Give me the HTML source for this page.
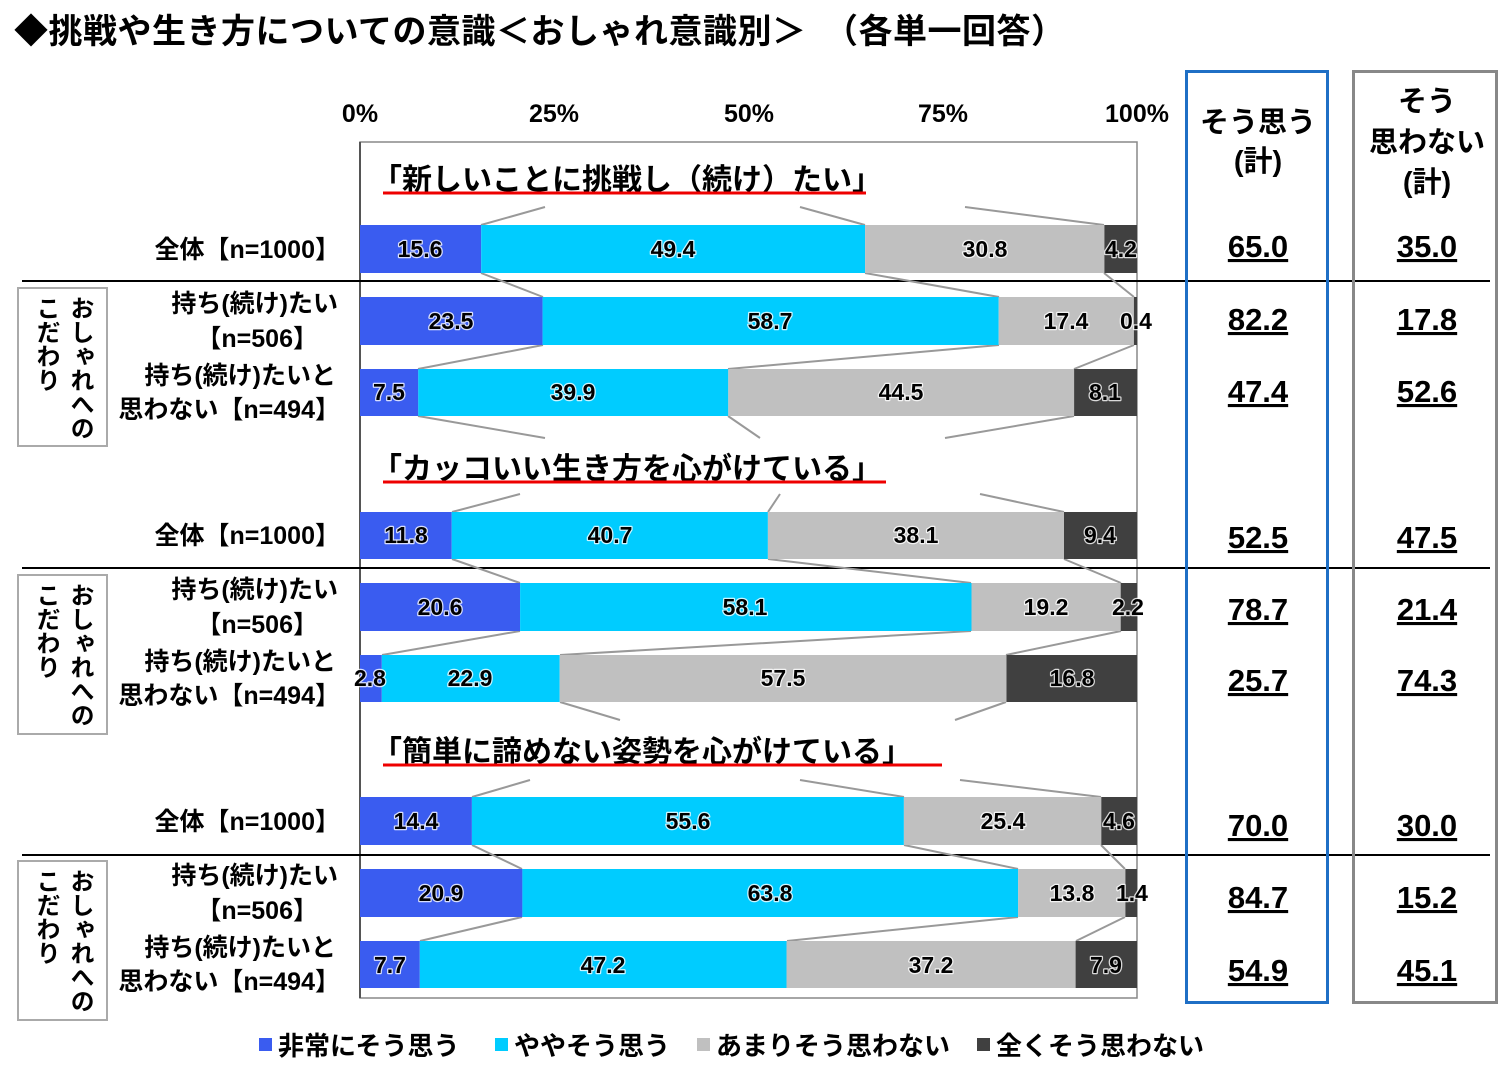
<!DOCTYPE html>
<html><head><meta charset="utf-8"><style>
body{margin:0;background:#fff;}
svg{display:block;font-family:"Liberation Sans","Noto Sans CJK JP",sans-serif;font-weight:bold;}
.vt{position:absolute;writing-mode:vertical-rl;font-family:"Liberation Sans","Noto Sans CJK JP",sans-serif;font-weight:bold;font-size:24px;line-height:34px;color:#000;}
</style></head><body>
<div style="position:relative;width:1500px;height:1079px;overflow:hidden">
<svg width="1500" height="1079" viewBox="0 0 1500 1079">
<text x="14" y="43" font-size="34" letter-spacing="0.5">◆挑戦や生き方についての意識＜おしゃれ意識別＞　（各単一回答）</text>
<g font-size="25" text-anchor="middle">
<text x="360" y="122">0%</text><text x="554" y="122">25%</text><text x="749" y="122">50%</text><text x="943" y="122">75%</text><text x="1137" y="122">100%</text>
</g>
<rect x="360" y="142" width="777" height="856" fill="none" stroke="#888" stroke-width="1.5"/>
<line x1="360" y1="142" x2="360" y2="998" stroke="#555" stroke-width="2"/>
<g stroke="#000" stroke-width="2">
<line x1="22" y1="281" x2="1490" y2="281"/><line x1="22" y1="568" x2="1490" y2="568"/><line x1="22" y1="855" x2="1490" y2="855"/>
</g>
<g font-size="30">
<text x="372" y="190">「新しいことに挑戦し（続け）たい」</text>
<text x="372" y="479">「カッコいい生き方を心がけている」</text>
<text x="372" y="762">「簡単に諦めない姿勢を心がけている」</text>
</g>
<g stroke="#e00" stroke-width="3">
<line x1="383" y1="193" x2="866" y2="193"/><line x1="383" y1="482" x2="886" y2="482"/><line x1="383" y1="765" x2="942" y2="765"/>
</g>
<g stroke="#999" stroke-width="2" fill="none">
<path d="M481,273L543,297M865,273L999,297M1104,273L1134,297"/>
<path d="M543,345L418,369M999,345L728,369M1134,345L1074,369"/>
<path d="M481,225L545,207M865,225L800,207M1104,225L965,207"/>
<path d="M418,416L545,438M728,416L760,438M1074,416L945,438"/>
<path d="M452,559L520,583M768,559L971,583M1064,559L1121,583"/>
<path d="M520,631L382,655M971,631L560,655M1121,631L1006,655"/>
<path d="M452,512L520,494M768,512L780,494M1064,512L980,494"/>
<path d="M560,702L620,720M1006,702L955,720"/>
<path d="M472,845L522,869M904,845L1018,869M1101,845L1125,869"/>
<path d="M522,917L420,941M1018,917L787,941M1125,917L1076,941"/>
<path d="M472,797L530,780M904,797L800,780M1101,797L960,780"/>
</g>
<g>
<rect x="360" y="225" width="121.2" height="48" fill="#3a5cf0"/><rect x="481.2" y="225" width="383.9" height="48" fill="#00ccff"/><rect x="865.1" y="225" width="239.3" height="48" fill="#c0c0c0"/><rect x="1104.4" y="225" width="32.6" height="48" fill="#404040"/>
<rect x="360" y="297" width="182.6" height="48" fill="#3a5cf0"/><rect x="542.6" y="297" width="456.1" height="48" fill="#00ccff"/><rect x="998.7" y="297" width="135.2" height="48" fill="#c0c0c0"/><rect x="1133.9" y="297" width="3.1" height="48" fill="#404040"/>
<rect x="360" y="369" width="58.3" height="47" fill="#3a5cf0"/><rect x="418.3" y="369" width="310" height="47" fill="#00ccff"/><rect x="728.3" y="369" width="345.8" height="47" fill="#c0c0c0"/><rect x="1074.1" y="369" width="62.9" height="47" fill="#404040"/>
<rect x="360" y="512" width="91.7" height="47" fill="#3a5cf0"/><rect x="451.7" y="512" width="316.2" height="47" fill="#00ccff"/><rect x="767.9" y="512" width="296.1" height="47" fill="#c0c0c0"/><rect x="1064" y="512" width="73" height="47" fill="#404040"/>
<rect x="360" y="583" width="160.1" height="48" fill="#3a5cf0"/><rect x="520.1" y="583" width="451.4" height="48" fill="#00ccff"/><rect x="971.5" y="583" width="149.2" height="48" fill="#c0c0c0"/><rect x="1120.7" y="583" width="16.3" height="48" fill="#404040"/>
<rect x="360" y="655" width="21.8" height="47" fill="#3a5cf0"/><rect x="381.8" y="655" width="177.9" height="47" fill="#00ccff"/><rect x="559.7" y="655" width="446.8" height="47" fill="#c0c0c0"/><rect x="1006.5" y="655" width="130.5" height="47" fill="#404040"/>
<rect x="360" y="797" width="111.9" height="48" fill="#3a5cf0"/><rect x="471.9" y="797" width="432" height="48" fill="#00ccff"/><rect x="903.9" y="797" width="197.4" height="48" fill="#c0c0c0"/><rect x="1101.3" y="797" width="35.7" height="48" fill="#404040"/>
<rect x="360" y="869" width="162.4" height="48" fill="#3a5cf0"/><rect x="522.4" y="869" width="495.8" height="48" fill="#00ccff"/><rect x="1018.2" y="869" width="107.2" height="48" fill="#c0c0c0"/><rect x="1125.4" y="869" width="11.6" height="48" fill="#404040"/>
<rect x="360" y="941" width="59.8" height="47" fill="#3a5cf0"/><rect x="419.8" y="941" width="366.7" height="47" fill="#00ccff"/><rect x="786.5" y="941" width="289.1" height="47" fill="#c0c0c0"/><rect x="1075.6" y="941" width="61.4" height="47" fill="#404040"/>
</g>
<g font-size="23" text-anchor="middle" fill="#000" stroke="#fff" stroke-opacity="0.8" stroke-width="2.5" paint-order="stroke" stroke-linejoin="round">
<text x="420" y="257">15.6</text><text x="673" y="257">49.4</text><text x="985" y="257">30.8</text><text x="1121" y="257">4.2</text>
<text x="451" y="329">23.5</text><text x="770" y="329">58.7</text><text x="1066" y="329">17.4</text><text x="1136" y="329">0.4</text>
<text x="389" y="400">7.5</text><text x="573" y="400">39.9</text><text x="901" y="400">44.5</text><text x="1105" y="400">8.1</text>
<text x="406" y="543">11.8</text><text x="610" y="543">40.7</text><text x="916" y="543">38.1</text><text x="1100" y="543">9.4</text>
<text x="440" y="615">20.6</text><text x="745" y="615">58.1</text><text x="1046" y="615">19.2</text><text x="1128" y="615">2.2</text>
<text x="370" y="686">2.8</text><text x="470" y="686">22.9</text><text x="783" y="686">57.5</text><text x="1072" y="686">16.8</text>
<text x="416" y="829">14.4</text><text x="688" y="829">55.6</text><text x="1003" y="829">25.4</text><text x="1119" y="829">4.6</text>
<text x="441" y="901">20.9</text><text x="770" y="901">63.8</text><text x="1072" y="901">13.8</text><text x="1132" y="901">1.4</text>
<text x="390" y="973">7.7</text><text x="603" y="973">47.2</text><text x="931" y="973">37.2</text><text x="1106" y="973">7.9</text>
</g>
<g font-size="25" text-anchor="end">
<text x="340" y="258">全体【n=1000】</text>
<text x="338" y="312">持ち(続け)たい</text><text x="318" y="347">【n=506】</text>
<text x="336" y="384">持ち(続け)たいと</text><text x="340" y="418">思わない【n=494】</text>
<text x="340" y="544">全体【n=1000】</text>
<text x="338" y="598">持ち(続け)たい</text><text x="318" y="633">【n=506】</text>
<text x="336" y="670">持ち(続け)たいと</text><text x="340" y="704">思わない【n=494】</text>
<text x="340" y="830">全体【n=1000】</text>
<text x="338" y="884">持ち(続け)たい</text><text x="318" y="919">【n=506】</text>
<text x="336" y="956">持ち(続け)たいと</text><text x="340" y="990">思わない【n=494】</text>
</g>
<g fill="none" stroke="#aaa" stroke-width="2">
<rect x="18" y="288" width="89" height="158"/><rect x="18" y="575" width="89" height="159"/><rect x="18" y="861" width="89" height="159"/>
</g>
<rect x="1186.5" y="71.5" width="141" height="931" fill="none" stroke="#1f6fc5" stroke-width="3"/>
<rect x="1353.5" y="71.5" width="143" height="931" fill="none" stroke="#888" stroke-width="3"/>
<g font-size="29" text-anchor="middle">
<text x="1258" y="132">そう思う</text><text x="1258" y="171">(計)</text>
<text x="1427" y="111">そう</text><text x="1427" y="152">思わない</text><text x="1427" y="192">(計)</text>
</g>
<g font-size="31" text-anchor="middle" text-decoration="underline">
<text x="1258" y="257">65.0</text><text x="1427" y="257">35.0</text>
<text x="1258" y="330">82.2</text><text x="1427" y="330">17.8</text>
<text x="1258" y="402">47.4</text><text x="1427" y="402">52.6</text>
<text x="1258" y="548">52.5</text><text x="1427" y="548">47.5</text>
<text x="1258" y="620">78.7</text><text x="1427" y="620">21.4</text>
<text x="1258" y="691">25.7</text><text x="1427" y="691">74.3</text>
<text x="1258" y="836">70.0</text><text x="1427" y="836">30.0</text>
<text x="1258" y="908">84.7</text><text x="1427" y="908">15.2</text>
<text x="1258" y="981">54.9</text><text x="1427" y="981">45.1</text>
</g>
<g font-size="26">
<rect x="259" y="1038" width="13" height="13" fill="#3a5cf0"/><text x="278" y="1055">非常にそう思う</text>
<rect x="495" y="1038" width="13" height="13" fill="#00ccff"/><text x="514" y="1055">ややそう思う</text>
<rect x="697" y="1038" width="13" height="13" fill="#c0c0c0"/><text x="716" y="1055">あまりそう思わない</text>
<rect x="977" y="1038" width="13" height="13" fill="#404040"/><text x="996" y="1055">全くそう思わない</text>
</g>
</svg>
<div class="vt" style="left:28px;top:296px;height:150px">おしゃれへのこだわり</div>
<div class="vt" style="left:28px;top:583px;height:150px">おしゃれへのこだわり</div>
<div class="vt" style="left:28px;top:869px;height:150px">おしゃれへのこだわり</div>
</div>
</body></html>
